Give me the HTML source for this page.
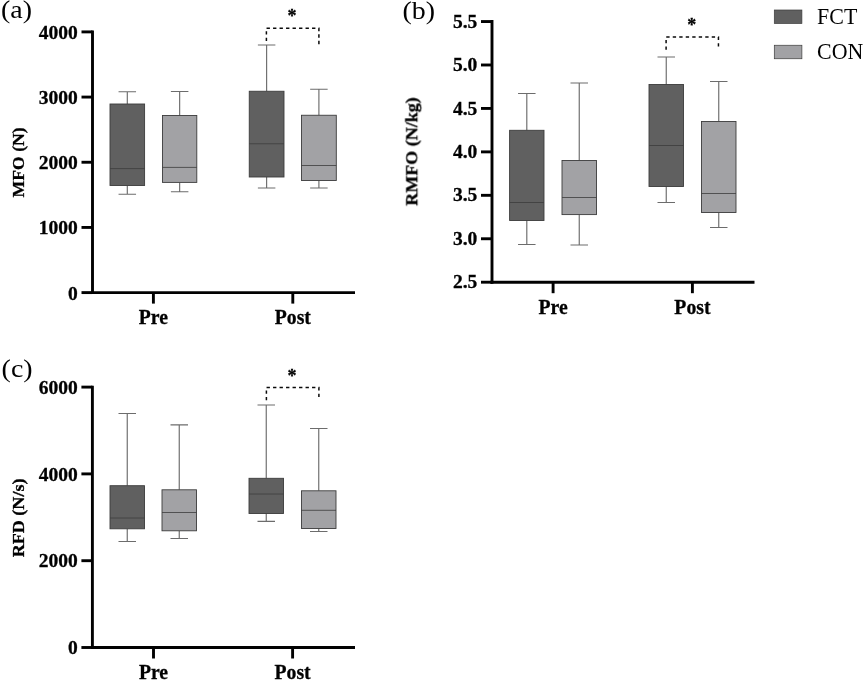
<!DOCTYPE html>
<html><head><meta charset="utf-8"><title>Figure</title>
<style>
html,body{margin:0;padding:0;background:#fff;}
body{width:865px;height:681px;overflow:hidden;font-family:"Liberation Serif",serif;}
svg{display:block;}
svg text{font-family:"Liberation Serif",serif;fill:#000;}
svg text[font-weight="bold"]{stroke:#000;stroke-width:0.3px;}
</style></head><body>
<svg width="865" height="681" viewBox="0 0 865 681">
<rect width="865" height="681" fill="#fff"/>
<g opacity="0.999">
<text transform="translate(1.0 18.4) scale(1.118 1)" font-size="25">(a)</text>
<path d="M92.50 30.45V294.05" stroke="#000" stroke-width="2.9"/>
<path d="M91.05 292.60H355.00" stroke="#000" stroke-width="2.9"/>
<path d="M81.50 292.60H92.50" stroke="#000" stroke-width="2.9"/>
<text x="77.80" y="299.60" text-anchor="end" font-size="19.5" font-weight="bold">0</text>
<path d="M81.50 227.43H92.50" stroke="#000" stroke-width="2.9"/>
<text x="77.80" y="234.43" text-anchor="end" font-size="19.5" font-weight="bold">1000</text>
<path d="M81.50 162.25H92.50" stroke="#000" stroke-width="2.9"/>
<text x="77.80" y="169.25" text-anchor="end" font-size="19.5" font-weight="bold">2000</text>
<path d="M81.50 97.07H92.50" stroke="#000" stroke-width="2.9"/>
<text x="77.80" y="104.07" text-anchor="end" font-size="19.5" font-weight="bold">3000</text>
<path d="M81.50 31.90H92.50" stroke="#000" stroke-width="2.9"/>
<text x="77.80" y="38.90" text-anchor="end" font-size="19.5" font-weight="bold">4000</text>
<path d="M153.40 292.60V303.60" stroke="#000" stroke-width="2.9"/>
<text transform="translate(153.40 324.20) scale(0.985 1)" text-anchor="middle" font-size="20" font-weight="bold">Pre</text>
<path d="M292.80 292.60V303.60" stroke="#000" stroke-width="2.9"/>
<text transform="translate(292.80 324.20) scale(0.985 1)" text-anchor="middle" font-size="20" font-weight="bold">Post</text>
<text transform="translate(24.40 162.40) rotate(-90) scale(1.016 1)" text-anchor="middle" font-size="17.4" font-weight="bold">MFO (N)</text>
<path d="M127.30 91.75V104.00M127.30 185.50V194.25M118.55 91.75H136.05M118.55 194.25H136.05" stroke="#6c6c6c" stroke-width="1.15" fill="none"/>
<rect x="110.00" y="104.00" width="34.60" height="81.50" fill="#606060" stroke="#3c3c3c" stroke-width="0.9"/>
<path d="M110.00 168.60H144.60" stroke="#3c3c3c" stroke-width="0.8"/>
<path d="M179.65 91.50V115.50M179.65 182.40V191.75M170.90 91.50H188.40M170.90 191.75H188.40" stroke="#6c6c6c" stroke-width="1.15" fill="none"/>
<rect x="162.50" y="115.50" width="34.30" height="66.90" fill="#a2a2a5" stroke="#3c3c3c" stroke-width="0.9"/>
<path d="M162.50 167.40H196.80" stroke="#3c3c3c" stroke-width="0.8"/>
<path d="M266.62 45.00V91.25M266.62 177.00V188.00M257.88 45.00H275.38M257.88 188.00H275.38" stroke="#6c6c6c" stroke-width="1.15" fill="none"/>
<rect x="249.25" y="91.25" width="34.75" height="85.75" fill="#606060" stroke="#3c3c3c" stroke-width="0.9"/>
<path d="M249.25 143.75H284.00" stroke="#3c3c3c" stroke-width="0.8"/>
<path d="M318.90 89.25V115.25M318.90 180.50V188.00M310.15 89.25H327.65M310.15 188.00H327.65" stroke="#6c6c6c" stroke-width="1.15" fill="none"/>
<rect x="301.50" y="115.25" width="34.80" height="65.25" fill="#a2a2a5" stroke="#3c3c3c" stroke-width="0.9"/>
<path d="M301.50 165.50H336.30" stroke="#3c3c3c" stroke-width="0.8"/>
<path d="M266.40 41.05V28.20H318.90V44.40" stroke="#0a0a0a" stroke-width="1.5" fill="none" stroke-dasharray="3.35 3.15"/>
<text x="292.05" y="22.40" text-anchor="middle" font-size="18" font-weight="bold">*</text>
<text transform="translate(402.5 19.3) scale(1.118 1)" font-size="25">(b)</text>
<path d="M492.00 20.10V283.65" stroke="#000" stroke-width="2.9"/>
<path d="M490.55 282.20H754.50" stroke="#000" stroke-width="2.9"/>
<path d="M481.00 21.55H492.00" stroke="#000" stroke-width="2.9"/>
<text x="477.30" y="27.65" text-anchor="end" font-size="19.5" font-weight="bold">5.5</text>
<path d="M481.00 64.99H492.00" stroke="#000" stroke-width="2.9"/>
<text x="477.30" y="71.09" text-anchor="end" font-size="19.5" font-weight="bold">5.0</text>
<path d="M481.00 108.43H492.00" stroke="#000" stroke-width="2.9"/>
<text x="477.30" y="114.53" text-anchor="end" font-size="19.5" font-weight="bold">4.5</text>
<path d="M481.00 151.88H492.00" stroke="#000" stroke-width="2.9"/>
<text x="477.30" y="157.97" text-anchor="end" font-size="19.5" font-weight="bold">4.0</text>
<path d="M481.00 195.32H492.00" stroke="#000" stroke-width="2.9"/>
<text x="477.30" y="201.42" text-anchor="end" font-size="19.5" font-weight="bold">3.5</text>
<path d="M481.00 238.76H492.00" stroke="#000" stroke-width="2.9"/>
<text x="477.30" y="244.86" text-anchor="end" font-size="19.5" font-weight="bold">3.0</text>
<path d="M481.00 282.20H492.00" stroke="#000" stroke-width="2.9"/>
<text x="477.30" y="288.30" text-anchor="end" font-size="19.5" font-weight="bold">2.5</text>
<path d="M553.10 282.20V293.20" stroke="#000" stroke-width="2.9"/>
<text transform="translate(553.10 313.80) scale(0.985 1)" text-anchor="middle" font-size="20" font-weight="bold">Pre</text>
<path d="M692.40 282.20V293.20" stroke="#000" stroke-width="2.9"/>
<text transform="translate(692.40 313.80) scale(0.985 1)" text-anchor="middle" font-size="20" font-weight="bold">Post</text>
<text transform="translate(417.30 151.50) rotate(-90) scale(1.034 1)" text-anchor="middle" font-size="17.4" font-weight="bold">RMFO (N/kg)</text>
<path d="M526.80 93.50V130.30M526.80 220.50V244.50M518.05 93.50H535.55M518.05 244.50H535.55" stroke="#6c6c6c" stroke-width="1.15" fill="none"/>
<rect x="509.60" y="130.30" width="34.40" height="90.20" fill="#606060" stroke="#3c3c3c" stroke-width="0.9"/>
<path d="M509.60 202.50H544.00" stroke="#3c3c3c" stroke-width="0.8"/>
<path d="M579.25 83.00V160.50M579.25 214.60V245.00M570.50 83.00H588.00M570.50 245.00H588.00" stroke="#6c6c6c" stroke-width="1.15" fill="none"/>
<rect x="562.00" y="160.50" width="34.50" height="54.10" fill="#a2a2a5" stroke="#3c3c3c" stroke-width="0.9"/>
<path d="M562.00 197.50H596.50" stroke="#3c3c3c" stroke-width="0.8"/>
<path d="M666.25 57.00V84.50M666.25 186.50V202.50M657.50 57.00H675.00M657.50 202.50H675.00" stroke="#6c6c6c" stroke-width="1.15" fill="none"/>
<rect x="649.00" y="84.50" width="34.50" height="102.00" fill="#606060" stroke="#3c3c3c" stroke-width="0.9"/>
<path d="M649.00 145.50H683.50" stroke="#3c3c3c" stroke-width="0.8"/>
<path d="M718.75 81.50V121.50M718.75 212.50V227.50M710.00 81.50H727.50M710.00 227.50H727.50" stroke="#6c6c6c" stroke-width="1.15" fill="none"/>
<rect x="701.50" y="121.50" width="34.50" height="91.00" fill="#a2a2a5" stroke="#3c3c3c" stroke-width="0.9"/>
<path d="M701.50 193.50H736.00" stroke="#3c3c3c" stroke-width="0.8"/>
<path d="M666.10 49.75V36.90H718.45V46.70" stroke="#0a0a0a" stroke-width="1.5" fill="none" stroke-dasharray="3.35 3.15"/>
<text x="691.70" y="31.10" text-anchor="middle" font-size="18" font-weight="bold">*</text>
<rect x="774.3" y="10" width="27.6" height="13.5" fill="#606060" stroke="#3c3c3c" stroke-width="0.7"/>
<rect x="774.3" y="45.25" width="27.6" height="13.5" fill="#a2a2a5" stroke="#3c3c3c" stroke-width="0.7"/>
<text transform="translate(817.1 24) scale(0.97 1)" font-size="22.6">FCT</text>
<text transform="translate(817.1 59) scale(0.97 1)" font-size="22.6">CON</text>
<text transform="translate(1.6 376.5) scale(1.118 1)" font-size="25">(c)</text>
<path d="M92.40 385.65V648.95" stroke="#000" stroke-width="2.9"/>
<path d="M90.95 647.50H355.00" stroke="#000" stroke-width="2.9"/>
<path d="M81.40 647.50H92.40" stroke="#000" stroke-width="2.9"/>
<text x="77.70" y="654.15" text-anchor="end" font-size="19.5" font-weight="bold">0</text>
<path d="M81.40 560.70H92.40" stroke="#000" stroke-width="2.9"/>
<text x="77.70" y="567.35" text-anchor="end" font-size="19.5" font-weight="bold">2000</text>
<path d="M81.40 473.90H92.40" stroke="#000" stroke-width="2.9"/>
<text x="77.70" y="480.55" text-anchor="end" font-size="19.5" font-weight="bold">4000</text>
<path d="M81.40 387.10H92.40" stroke="#000" stroke-width="2.9"/>
<text x="77.70" y="393.75" text-anchor="end" font-size="19.5" font-weight="bold">6000</text>
<path d="M153.50 647.50V658.50" stroke="#000" stroke-width="2.9"/>
<text transform="translate(153.50 679.10) scale(0.985 1)" text-anchor="middle" font-size="20" font-weight="bold">Pre</text>
<path d="M292.60 647.50V658.50" stroke="#000" stroke-width="2.9"/>
<text transform="translate(292.60 679.10) scale(0.985 1)" text-anchor="middle" font-size="20" font-weight="bold">Post</text>
<text transform="translate(24.40 517.90) rotate(-90) scale(1.037 1)" text-anchor="middle" font-size="17.4" font-weight="bold">RFD (N/s)</text>
<path d="M127.25 413.50V485.70M127.25 528.80V541.50M118.50 413.50H136.00M118.50 541.50H136.00" stroke="#6c6c6c" stroke-width="1.15" fill="none"/>
<rect x="110.00" y="485.70" width="34.50" height="43.10" fill="#606060" stroke="#3c3c3c" stroke-width="0.9"/>
<path d="M110.00 518.00H144.50" stroke="#3c3c3c" stroke-width="0.8"/>
<path d="M179.25 424.80V489.80M179.25 530.80V538.50M170.50 424.80H188.00M170.50 538.50H188.00" stroke="#6c6c6c" stroke-width="1.15" fill="none"/>
<rect x="162.00" y="489.80" width="34.50" height="41.00" fill="#a2a2a5" stroke="#3c3c3c" stroke-width="0.9"/>
<path d="M162.00 512.50H196.50" stroke="#3c3c3c" stroke-width="0.8"/>
<path d="M266.25 405.00V478.30M266.25 513.50V521.30M257.50 405.00H275.00M257.50 521.30H275.00" stroke="#6c6c6c" stroke-width="1.15" fill="none"/>
<rect x="249.00" y="478.30" width="34.50" height="35.20" fill="#606060" stroke="#3c3c3c" stroke-width="0.9"/>
<path d="M249.00 494.00H283.50" stroke="#3c3c3c" stroke-width="0.8"/>
<path d="M318.75 428.50V490.80M318.75 528.50V531.50M310.00 428.50H327.50M310.00 531.50H327.50" stroke="#6c6c6c" stroke-width="1.15" fill="none"/>
<rect x="301.50" y="490.80" width="34.50" height="37.70" fill="#a2a2a5" stroke="#3c3c3c" stroke-width="0.9"/>
<path d="M301.50 510.30H336.00" stroke="#3c3c3c" stroke-width="0.8"/>
<path d="M266.40 400.35V387.50H318.90V397.20" stroke="#0a0a0a" stroke-width="1.5" fill="none" stroke-dasharray="3.35 3.15"/>
<text x="292.05" y="381.70" text-anchor="middle" font-size="18" font-weight="bold">*</text>
</g>
</svg>
</body></html>
